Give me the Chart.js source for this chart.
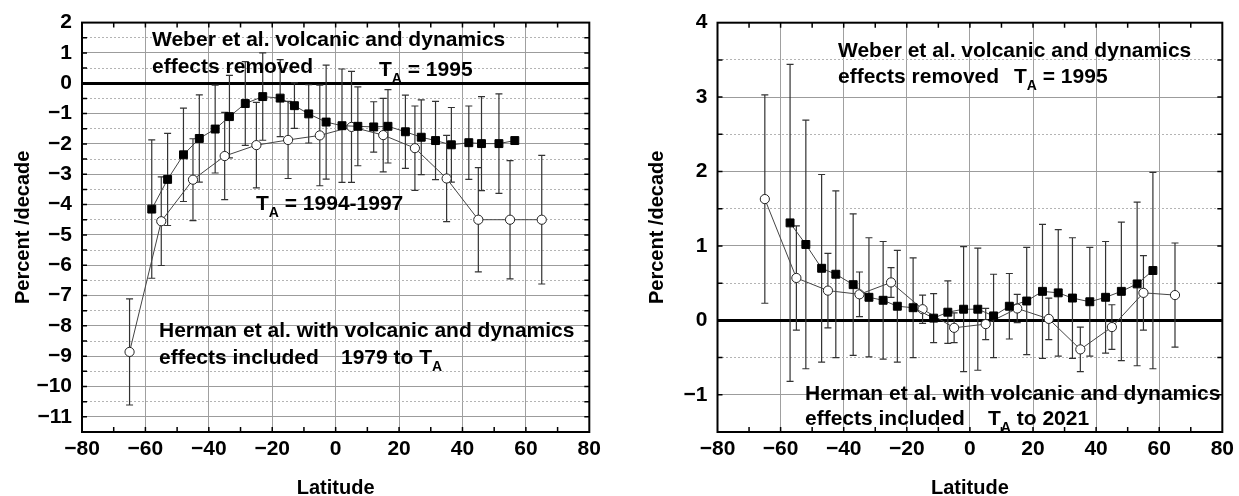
<!DOCTYPE html>
<html>
<head>
<meta charset="utf-8">
<script src="https://cdn.jsdelivr.net/npm/chart.js@4.4.1/dist/chart.umd.min.js"></script>
<style>
  body { margin: 0; background: #fff; }
  canvas { position: absolute; top: 0; }
</style>
</head>
<body>
<canvas id="left-chart" width="610" height="496" style="left:0px"></canvas>
<canvas id="right-chart" width="609" height="496" style="left:630px"></canvas>
<script>
// left panel: 1979 to TA
const leftWeberLat = [-58, -53, -48, -43, -38, -33.5, -28.5, -23, -17.5, -13, -8.5, -3, 2, 7, 12, 16.5, 22, 27, 31.5, 36.5, 42, 46, 51.5, 56.5];
const leftWeberVal = [-4.15, -3.17, -2.36, -1.82, -1.51, -1.10, -0.67, -0.44, -0.49, -0.74, -1.01, -1.28, -1.40, -1.42, -1.44, -1.42, -1.60, -1.78, -1.89, -2.03, -1.96, -1.99, -1.99, -1.89];
const leftWeberErr = [2.28, 1.52, 1.54, 1.44, 1.45, 1.36, 1.38, 1.44, 1.27, 0.75, 0.96, 1.88, 1.87, 1.30, 0.83, 1.21, 1.21, 1.23, 1.29, 1.23, 1.21, 1.55, 1.64, 0];

const leftHermanLat = [-65, -55, -45, -35, -25, -15, -5, 5, 15, 25, 35, 45, 55, 65];
const leftHermanVal = [-8.86, -4.55, -3.18, -2.40, -2.04, -1.87, -1.72, -1.44, -1.71, -2.14, -3.14, -4.50, -4.50, -4.50];
const leftHermanErr = [1.75, 1.46, 1.35, 1.44, 1.41, 1.27, 1.66, 1.83, 1.21, 1.39, 1.42, 1.72, 1.95, 2.12];

// right panel: TA to 2021
const rightWeberLat = [-57, -52, -47, -42.5, -37, -32, -27.5, -23, -18, -11.5, -7, -2, 2.5, 7.5, 12.5, 18, 23, 28, 32.5, 38, 43, 48, 53, 58];
const rightWeberVal = [1.31, 1.02, 0.70, 0.62, 0.48, 0.31, 0.27, 0.19, 0.17, 0.03, 0.11, 0.15, 0.15, 0.06, 0.19, 0.26, 0.39, 0.37, 0.30, 0.25, 0.31, 0.39, 0.49, 0.67];
const rightWeberErr = [2.13, 1.67, 1.26, 1.12, 0.95, 0.80, 0.79, 0.75, 0.67, 0.33, 0.42, 0.84, 0.82, 0.56, 0.44, 0.72, 0.90, 0.85, 0.81, 0.73, 0.75, 0.93, 1.10, 1.32];

const rightHermanLat = [-65, -55, -45, -35, -25, -15, -5, 5, 15, 25, 35, 45, 55, 65];
const rightHermanVal = [1.63, 0.57, 0.40, 0.35, 0.51, 0.15, -0.10, -0.05, 0.16, 0.02, -0.39, -0.09, 0.37, 0.34];
const rightHermanErr = [1.40, 0.70, 0.50, 0.30, 0.20, 0.19, 0.20, 0.21, 0.19, 0.28, 0.30, 0.30, 0.50, 0.70];

const latTicks = [-80, -60, -40, -20, 0, 20, 40, 60, 80];

const FONT = "'Liberation Sans', Arial, sans-serif";

function isWhole(v) { return Math.abs(v - Math.round(v)) < 1e-6; }
function fmtMinus(v) { return v < 0 ? '\u2212' + Math.abs(v) : String(Math.abs(v)); }
function points(xs, ys) { return xs.map((x, i) => ({x: x, y: ys[i]})); }

// vertical error bars with caps, under the markers
const errorBars = {
    id: 'errorBars',
    beforeDatasetsDraw(chart) {
        const {ctx, scales: {x, y}} = chart;
        ctx.save();
        ctx.strokeStyle = '#333';
        ctx.lineWidth = 1.2;
        chart.data.datasets.forEach(ds => {
            ds.data.forEach((p, i) => {
                const e = ds.errors[i];
                if (!e) return;
                const px = x.getPixelForValue(p.x);
                const top = y.getPixelForValue(p.y + e);
                const bot = y.getPixelForValue(p.y - e);
                ctx.beginPath();
                ctx.moveTo(px, top); ctx.lineTo(px, bot);
                ctx.moveTo(px - 3.5, top); ctx.lineTo(px + 3.5, top);
                ctx.moveTo(px - 3.5, bot); ctx.lineTo(px + 3.5, bot);
                ctx.stroke();
            });
        });
        ctx.restore();
    }
};

// frame, inward ticks and text notes
function framePlugin(notes) {
    return {
        id: 'frameAndNotes',
        afterDatasetsDraw(chart) {
            const {ctx, chartArea: a, scales: {x, y}} = chart;
            ctx.save();
            ctx.strokeStyle = '#000';
            ctx.lineWidth = 1.5;
            ctx.beginPath();
            x.ticks.forEach(t => {
                if (t.value <= x.min || t.value >= x.max) return;
                const px = x.getPixelForValue(t.value);
                ctx.moveTo(px, a.bottom); ctx.lineTo(px, a.bottom - 5);
                ctx.moveTo(px, a.top); ctx.lineTo(px, a.top + 5);
            });
            y.ticks.forEach(t => {
                if (t.value <= y.min || t.value >= y.max) return;
                const py = y.getPixelForValue(t.value);
                ctx.moveTo(a.left, py); ctx.lineTo(a.left + 5, py);
                ctx.moveTo(a.right, py); ctx.lineTo(a.right - 5, py);
            });
            ctx.stroke();
            ctx.lineWidth = 2;
            ctx.strokeRect(a.left, a.top, a.right - a.left, a.bottom - a.top);
            ctx.restore();
        },
        afterDraw(chart) {
            const ctx = chart.ctx;
            ctx.save();
            ctx.fillStyle = '#000';
            ctx.textBaseline = 'alphabetic';
            notes.forEach(n => {
                let x = n.x;
                n.parts.forEach(part => {
                    const sub = part[1];
                    ctx.font = 'bold ' + (sub ? 14 : 21) + 'px ' + FONT;
                    ctx.fillText(part[0], x, n.y + (sub ? 7 : 0));
                    x += ctx.measureText(part[0]).width;
                });
            });
            ctx.restore();
        }
    };
}

function makeChart(id, cfg) {
    const tickFont = {family: FONT, size: 21, weight: 'bold'};
    const titleFont = {family: FONT, size: 20, weight: 'bold', lineHeight: 1};
    return new Chart(document.getElementById(id), {
        type: 'scatter',
        data: {
            datasets: [{
                label: 'Weber et al.',
                data: points(cfg.weberLat, cfg.weberVal),
                errors: cfg.weberErr,
                showLine: true,
                borderColor: '#444',
                borderWidth: 1,
                pointStyle: 'rect',
                pointRadius: 5.6,
                pointBackgroundColor: '#000',
                pointBorderColor: '#000',
                pointBorderWidth: 1
            }, {
                label: 'Herman et al.',
                data: points(cfg.hermanLat, cfg.hermanVal),
                errors: cfg.hermanErr,
                showLine: true,
                borderColor: '#444',
                borderWidth: 1,
                pointStyle: 'circle',
                pointRadius: 4.6,
                pointBackgroundColor: '#fff',
                pointBorderColor: '#222',
                pointBorderWidth: 1
            }]
        },
        options: {
            responsive: false,
            animation: false,
            devicePixelRatio: 1,
            layout: {padding: {top: cfg.padTop, right: cfg.padRight, left: 0, bottom: 0}},
            plugins: {legend: {display: false}, tooltip: {enabled: false}},
            scales: {
                x: {
                    type: 'linear',
                    min: -80,
                    max: 80,
                    afterFit: s => { s.height = 64; },
                    afterBuildTicks: s => { s.ticks = []; for (let v = -80; v <= 80; v += 10) s.ticks.push({value: v}); },
                    ticks: {
                        autoSkip: false, maxRotation: 0, padding: 5, color: '#000', font: tickFont,
                        callback: v => latTicks.includes(v) ? fmtMinus(v) : ''
                    },
                    grid: {
                        drawTicks: false,
                        color: c => latTicks.includes(c.tick.value) ? '#a0a0a0' : 'rgba(0,0,0,0)',
                        lineWidth: 1
                    },
                    border: {display: false},
                    title: {display: true, text: 'Latitude', color: '#000', font: titleFont, padding: {top: 0, bottom: -2}}
                },
                y: {
                    min: cfg.yMin,
                    max: cfg.yMax,
                    afterFit: s => { s.width = cfg.yWidth; },
                    ticks: {
                        stepSize: 0.5, autoSkip: false, padding: 10, color: '#000', font: tickFont,
                        callback: v => isWhole(v) ? fmtMinus(v) : ''
                    },
                    grid: {
                        drawTicks: false,
                        color: c => c.tick.value === 0 ? '#000' : (isWhole(c.tick.value) ? '#9c9c9c' : '#b4b4b4'),
                        lineWidth: c => c.tick.value === 0 ? 3 : 1
                    },
                    border: {display: false, dash: c => (c.tick && !isWhole(c.tick.value)) ? [2, 2] : []},
                    title: {display: true, text: 'Percent /decade', color: '#000', font: titleFont, padding: {top: cfg.titlePad, bottom: 0}}
                }
            }
        },
        plugins: [errorBars, framePlugin(cfg.notes)]
    });
}

makeChart('left-chart', {
    weberLat: leftWeberLat, weberVal: leftWeberVal, weberErr: leftWeberErr,
    hermanLat: leftHermanLat, hermanVal: leftHermanVal, hermanErr: leftHermanErr,
    yMin: -11.5, yMax: 2, yWidth: 82, padTop: 22, padRight: 20.7, titlePad: 13,
    notes: [
        {x: 152, y: 46, parts: [['Weber et al. volcanic and dynamics']]},
        {x: 152, y: 72.5, parts: [['effects removed']]},
        {x: 379, y: 76, parts: [['T'], ['A', true], [' = 1995']]},
        {x: 256, y: 210, parts: [['T'], ['A', true], [' = 1994-1997']]},
        {x: 159, y: 337, parts: [['Herman et al. with volcanic and dynamics']]},
        {x: 159, y: 364, parts: [['effects included']]},
        {x: 341, y: 364, parts: [['1979 to T'], ['A', true]]}
    ]
});

makeChart('right-chart', {
    weberLat: rightWeberLat, weberVal: rightWeberVal, weberErr: rightWeberErr,
    hermanLat: rightHermanLat, hermanVal: rightHermanVal, hermanErr: rightHermanErr,
    yMin: -1.5, yMax: 4, yWidth: 87.5, padTop: 22.7, padRight: 14, titlePad: 17,
    notes: [
        {x: 208, y: 57.3, parts: [['Weber et al. volcanic and dynamics']]},
        {x: 208, y: 83, parts: [['effects removed']]},
        {x: 384, y: 83, parts: [['T'], ['A', true], [' = 1995']]},
        {x: 175, y: 400, parts: [['Herman et al. with volcanic and dynamics']]},
        {x: 175, y: 425, parts: [['effects included']]},
        {x: 358, y: 425, parts: [['T'], ['A', true], [' to 2021']]}
    ]
});
</script>
</body>
</html>
